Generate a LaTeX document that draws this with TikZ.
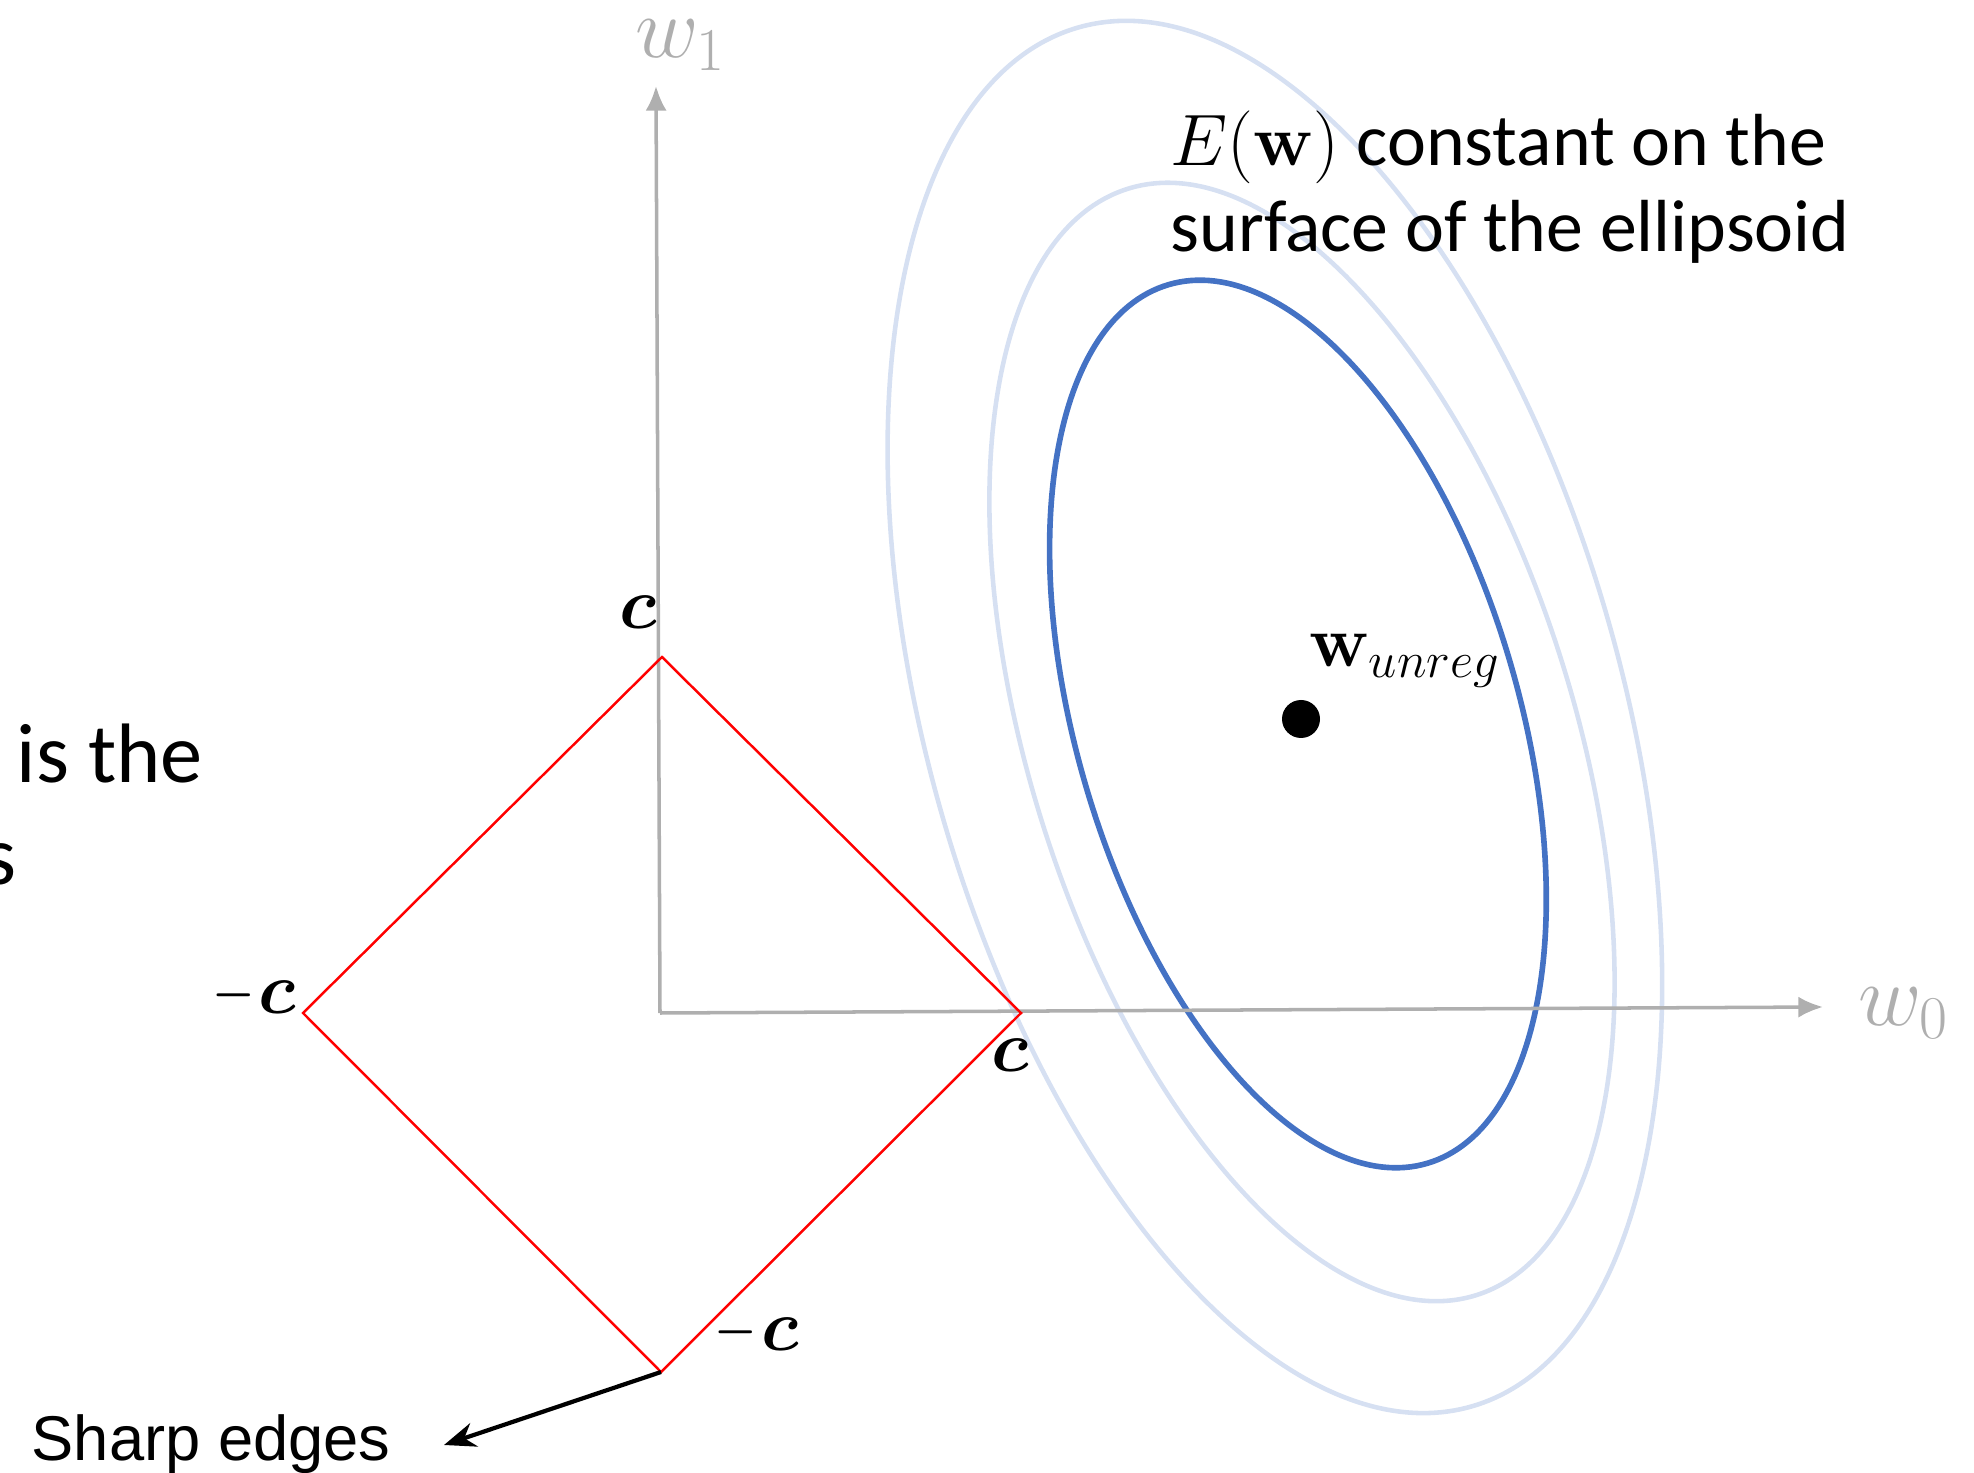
\documentclass[tikz,border=0pt]{standalone}
\usepackage[no-math]{fontspec}
\usepackage{amsmath,bm}
\setmainfont{Carlito}
\newfontfamily\arialfont{Liberation Sans}
\usetikzlibrary{positioning}
\usetikzlibrary{arrows.meta}
\definecolor{axgray}{RGB}{175,175,175}
\definecolor{eblue}{RGB}{68,114,196}
\definecolor{elight}{RGB}{214,224,242}
\newcommand{\shortminus}{\scalebox{0.75}[1]{$-$}\mkern1mu}
\tikzset{axis/.style = {draw=axgray, line width=1pt,
                        -{Latex[length=7pt,width=6pt]}}}
\tikzset{ring/.style = {draw=elight, line width=1.3pt}}
\tikzset{lbl/.style = {inner sep=0pt, font=\fontsize{20}{24}\selectfont}}
\tikzset{axlbl/.style = {inner sep=0pt, text=axgray, font=\fontsize{24}{28}\selectfont}}
\tikzset{txt/.style = {inner sep=0pt, anchor=base west, font=\fontsize{21}{25}\selectfont}}

\begin{document}
\begin{tikzpicture}
  \useasboundingbox (0,0) rectangle (19.74,-14.73);
  % error contours
  \coordinate (e3) at (12.75,-7.17);
  \coordinate (e2) at (13.02,-7.42);
  \coordinate (e1) at (12.98,-7.24);
  \draw[ring, rotate around={15.9:(e3)}] (e3) ellipse [x radius=3.47, y radius=7.17];
  \draw[ring, rotate around={17.5:(e2)}] (e2) ellipse [x radius=2.72, y radius=5.80];
  \draw[draw=eblue, line width=1.6pt, rotate around={16.4:(e1)}]
    (e1) ellipse [x radius=2.21, y radius=4.58];
  % axes
  \coordinate (O) at (6.60,-10.13);
  \coordinate (w1end) at (6.56,-0.86);
  \coordinate (w0end) at (18.23,-10.07);
  \draw[axis] (O) -- (w1end);
  \draw[axis] (O) -- (w0end);
  \node[axlbl] (w1) at (6.81,-0.45) {$w_1$};
  \node[axlbl] (w0) at (19.04,-10.13) {$w_0$};
  % L1 constraint region
  \coordinate (T) at (6.62,-6.57);
  \coordinate (R) at (10.21,-10.13);
  \coordinate (B) at (6.61,-13.72);
  \coordinate (L) at (3.03,-10.13);
  \draw[red, line width=0.7pt] (T) -- (R) -- (B) -- (L) -- cycle;
  \node[lbl] (ct) at (6.38,-6.12) {$\bm{c}$};
  \node[lbl, anchor=east] (cl) at (2.97,-9.95) {$\shortminus\bm{c}$};
  \node[lbl] (cr) at (10.10,-10.55) {$\bm{c}$};
  \node[lbl, anchor=west] (cb) at (7.14,-13.32) {$\shortminus\bm{c}$};
  % unregularised solution
  \node[fill, circle, inner sep=0, minimum size=0.38cm] (wu) at (13.01,-7.19) {};
  \node[lbl, anchor=base west] (wulbl) at (13.09,-6.67) {$\mathbf{w}_{unreg}$};
  % texts
  \node[txt] (etxt1) at (11.70,-1.66) {$E(\mathbf{w})$ constant on the};
  \node[txt, below=0.86cm of etxt1.base west, anchor=base west] (etxt2)
    {surface of the ellipsoid};
  \node[txt, font=\fontsize{24}{29}\selectfont] (isthe) at (0.16,-7.83) {is the};
  \node[txt, anchor=base east, font=\fontsize{24}{29}\selectfont] (s) at (0.17,-8.85) {s};
  \node[anchor=base west, inner sep=0pt, font=\arialfont\fontsize{18}{22}\selectfont]
    (sharp) at (0.31,-14.60) {Sharp edges};
  \coordinate (tip) at (4.44,-14.45);
  \draw[line width=1.2pt, -{Stealth[length=9pt,width=7pt]}] (B) -- (tip);
\end{tikzpicture}
\end{document}
